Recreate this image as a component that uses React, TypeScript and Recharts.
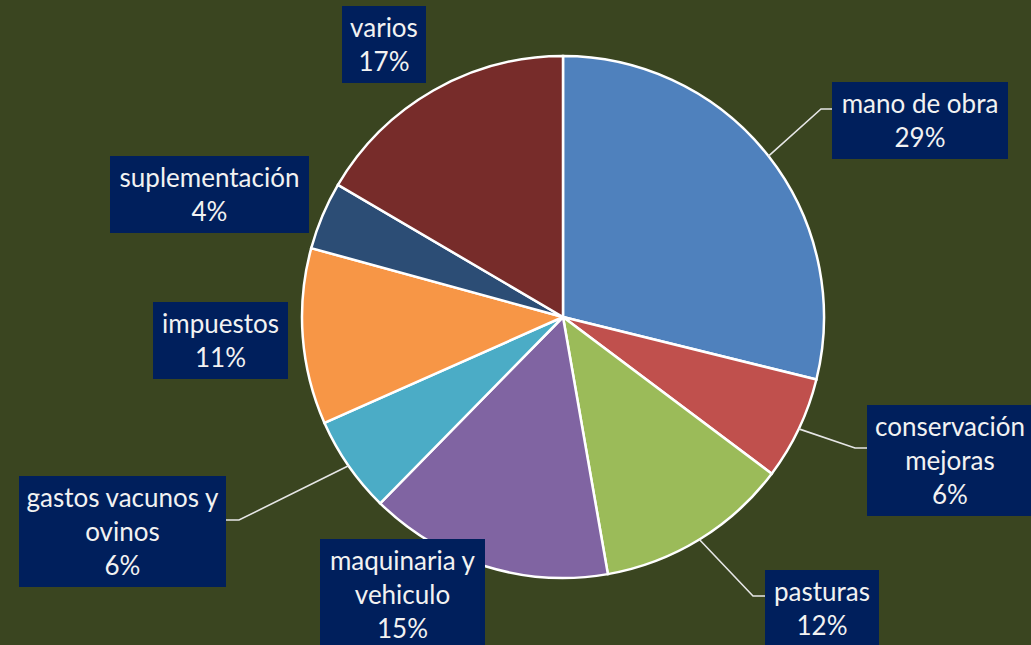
import React from 'react';
import { PieChart, Pie, Cell } from 'recharts';

// cost share by category, percent
const categories = [
  'mano de obra',
  'conservación mejoras',
  'pasturas',
  'maquinaria y vehiculo',
  'gastos vacunos y ovinos',
  'impuestos',
  'suplementación',
  'varios',
];
const shares = [28.85, 6.4, 12.0, 15.1, 6.0, 10.9, 4.2, 16.55];
const labelLines = [
  ['mano de obra'],
  ['conservación', 'mejoras'],
  ['pasturas'],
  ['maquinaria y', 'vehiculo'],
  ['gastos vacunos y', 'ovinos'],
  ['impuestos'],
  ['suplementación'],
  ['varios'],
];
const colors = ['#4f81bd', '#c0504d', '#9bbb59', '#8064a2', '#4bacc6', '#f79646', '#2c4d75', '#772c2a'];

const BG = '#3a4520';
const BOX = '#001f5c';
const W = 1031;
const H = 645;
const CX = 563;
const CY = 317;

// where each label box sits (relative to pie centre) and the leader elbow, if any
const boxLayout = [
  { dx: 269, dy: -235, w: 176, elbow: { dx: 258, dy: -208 }, side: 'left' },
  { dx: 304, dy: 88, w: 166, elbow: { dx: 292, dy: 131 }, side: 'left' },
  { dx: 202, dy: 253, w: 114, elbow: { dx: 190, dy: 279 }, side: 'left' },
  { dx: -243, dy: 222, w: 165, elbow: null, side: 'none' },
  { dx: -544, dy: 159, w: 207, elbow: { dx: -324, dy: 203 }, side: 'right' },
  { dx: -410, dy: -15, w: 135, elbow: null, side: 'none' },
  { dx: -453, dy: -161, w: 199, elbow: null, side: 'none' },
  { dx: -221, dy: -311, w: 84, elbow: null, side: 'none' },
];

const data = categories.map((name, i) => ({ name, value: shares[i] }));
const total = shares.reduce((a, b) => a + b, 0);
const RAD = Math.PI / 180;

const renderLabel = (props: any) => {
  const { cx, cy, midAngle, outerRadius, index, value } = props;
  const lay = boxLayout[index];
  const lines = [...labelLines[index], `${Math.round((value / total) * 100)}%`];
  const bx = cx + lay.dx;
  const by = cy + lay.dy;
  const bh = lines.length * 34 + 9;
  const px = cx + outerRadius * Math.cos(-midAngle * RAD);
  const py = cy + outerRadius * Math.sin(-midAngle * RAD);
  let leader = null;
  if (lay.elbow) {
    const ex = cx + lay.elbow.dx;
    const ey = cy + lay.elbow.dy;
    const endX = lay.side === 'left' ? bx : bx + lay.w;
    leader = (
      <polyline
        points={`${px},${py} ${ex},${ey} ${endX},${ey}`}
        fill="none"
        stroke="#e6e6e6"
        strokeWidth={1.6}
      />
    );
  }
  return (
    <g key={`lbl-${index}`}>
      {leader}
      <rect x={bx} y={by} width={lay.w} height={bh} fill={BOX} />
      {lines.map((t, j) => (
        <text
          key={j}
          x={bx + lay.w / 2}
          y={by + 31 + j * 34}
          textAnchor="middle"
          fill="#f2f2f2"
          fontSize={26}
          fontFamily="Lato, 'Open Sans', sans-serif"
        >
          {t}
        </text>
      ))}
    </g>
  );
};

export default function App() {
  return (
    <div style={{ position: 'fixed', left: 0, top: 0, width: W, height: H, background: BG, overflow: 'hidden' }}>
      <PieChart width={W} height={H} margin={{ top: 0, right: 0, bottom: 0, left: 0 }}>
        <Pie
          data={data}
          dataKey="value"
          nameKey="name"
          cx={CX}
          cy={CY}
          outerRadius={261}
          startAngle={90}
          endAngle={-270}
          stroke="#ffffff"
          strokeWidth={2.5}
          label={renderLabel}
          labelLine={false}
          isAnimationActive={false}
        >
          {data.map((d, i) => (
            <Cell key={d.name} fill={colors[i]} />
          ))}
        </Pie>
      </PieChart>
    </div>
  );
}
